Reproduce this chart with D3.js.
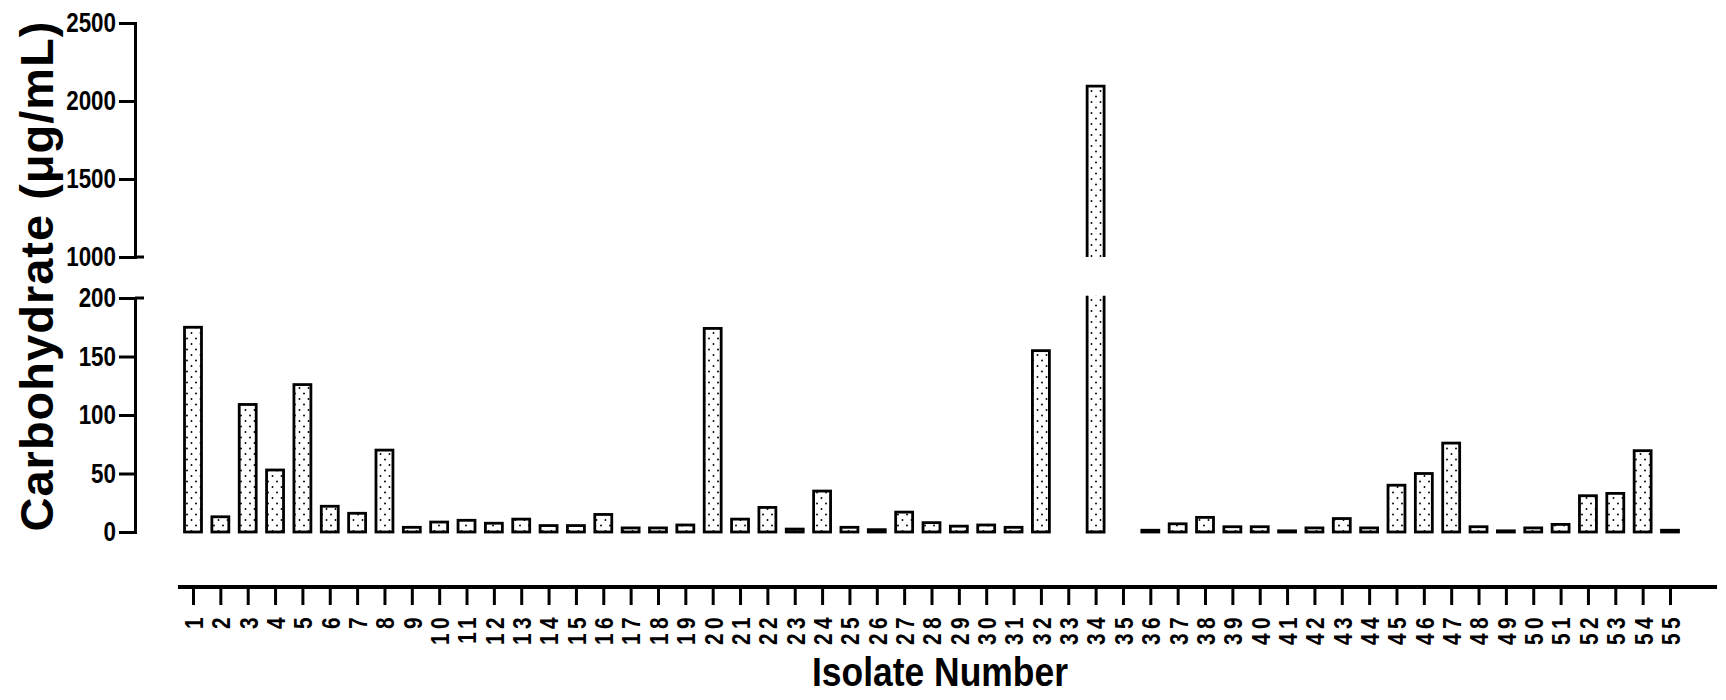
<!DOCTYPE html>
<html><head><meta charset="utf-8">
<script src="https://cdn.jsdelivr.net/npm/d3@7/dist/d3.min.js"></script>
<style>body{margin:0;background:#fff} svg{display:block;background:#fff}</style>
</head><body><svg id="chart" width="1726" height="700"></svg>
<script>
// ---- data ----
const isolates = ["1","2","3","4","5","6","7","8","9","10","11","12","13","14","15","16","17","18","19","20",
  "21","22","23","24","25","26","27","28","29","30","31","32","33","34","35","36","37","38","39","40",
  "41","42","43","44","45","46","47","48","49","50","51","52","53","54","55"];
const carbohydrate = [175,13,109,53,126,22,16,70,4,8.5,10,7.5,11,5.5,5.5,15,3.5,3.5,6,174,
  11,21,2.5,35,4,2,17,8,5,6,4,155,null,2095,null,1.5,7,12.5,4.5,4.5,
  1,3.5,11.5,3.5,40,50,76,4.5,1,3.5,6.5,31,33,69.5,1.5];
const upperTicks = [1000,1500,2000,2500];
const lowerTicks = [0,50,100,150,200];
const yTitle = "Carbohydrate (\u03BCg/mL)";
const xTitle = "Isolate Number";

// ---- layout ----
const svg = d3.select("#chart");
const axisX = 135;
const x = d3.scalePoint().domain(isolates).range([193, 1670]);
const step = x.step();
const barW = step * 0.62;
const yLow = d3.scaleLinear().domain([0, 200]).range([532, 298]);
const yUp = d3.scaleLinear().domain([1000, 2500]).range([257, 23]);
const lowCap = 202;
const bold = "'Liberation Sans',Arial,Helvetica,sans-serif";
const squeeze = 0.8;

// dotted pattern
const defs = svg.append("defs");
const pat = defs.append("pattern").attr("id","dots").attr("patternUnits","userSpaceOnUse")
  .attr("width",9).attr("height",11);
pat.append("rect").attr("width",9).attr("height",11).attr("fill","#fff");
pat.append("circle").attr("cx",2.5).attr("cy",3).attr("r",0.95).attr("fill","#000");
pat.append("circle").attr("cx",7).attr("cy",8.5).attr("r",0.95).attr("fill","#000");

// ---- bars ----
const data = isolates.map((k,i)=>({k, v: carbohydrate[i]})).filter(d=>d.v!=null);
const gBars = svg.append("g");
const sw = 2.8;
data.forEach(d=>{
  const x0 = x(d.k) - barW/2, x1 = x(d.k) + barW/2;
  if (d.v <= 200) {
    gBars.append("rect").attr("x",x0).attr("width",barW)
      .attr("y",yLow(d.v)).attr("height",Math.max(0.5, yLow(0)-yLow(d.v)))
      .attr("fill","url(#dots)").attr("stroke","#000").attr("stroke-width",sw);
  } else {
    gBars.append("rect").attr("x",x0).attr("width",barW)
      .attr("y",yLow(lowCap)).attr("height",yLow(0)-yLow(lowCap)).attr("fill","url(#dots)");
    gBars.append("path").attr("d",`M${x0},${yLow(lowCap)}V${yLow(0)}H${x1}V${yLow(lowCap)}`)
      .attr("fill","none").attr("stroke","#000").attr("stroke-width",sw);
    gBars.append("rect").attr("x",x0).attr("width",barW)
      .attr("y",yUp(d.v)).attr("height",yUp(1000)-yUp(d.v)).attr("fill","url(#dots)");
    gBars.append("path").attr("d",`M${x0},${yUp(1000)}V${yUp(d.v)}H${x1}V${yUp(1000)}`)
      .attr("fill","none").attr("stroke","#000").attr("stroke-width",sw);
  }
});

// ---- y axes ----
function styleY(g){
  g.select(".domain").attr("stroke-width",3).attr("stroke-linecap","square");
  g.selectAll(".tick line").attr("stroke-width",3);
  g.selectAll(".tick text")
    .attr("x", -19/squeeze)
    .attr("transform", `scale(${squeeze},1)`)
    .attr("font-family",bold).attr("font-weight","bold")
    .attr("font-size",28).attr("fill","#000");
}
const gUp = svg.append("g").attr("transform",`translate(${axisX},0)`)
  .call(d3.axisLeft(yUp).tickValues(upperTicks).tickSize(16).tickSizeOuter(0).tickPadding(3).tickFormat(d3.format("d")));
styleY(gUp);
const gLow = svg.append("g").attr("transform",`translate(${axisX},0)`)
  .call(d3.axisLeft(yLow).tickValues(lowerTicks).tickSize(16).tickSizeOuter(0).tickPadding(3).tickFormat(d3.format("d")));
styleY(gLow);
[yUp(1000), yLow(200)].forEach(yy=>{
  svg.append("line").attr("x1",axisX).attr("x2",axisX+9).attr("y1",yy).attr("y2",yy)
    .attr("stroke","#000").attr("stroke-width",3);
});

// ---- x axis ----
const axisY = 587;
const gX = svg.append("g").attr("transform",`translate(0,${axisY})`)
  .call(d3.axisBottom(x).tickSize(18).tickSizeOuter(0));
gX.select(".domain").remove();
gX.selectAll(".tick line").attr("stroke-width",3);
gX.selectAll(".tick text").remove();
gX.selectAll(".tick").append("text")
  .attr("transform","translate(0,26) rotate(-90) scale(0.8,1)")
  .attr("text-anchor","end").attr("dy","0.36em")
  .attr("font-family",bold).attr("font-weight","bold").attr("font-size",26)
  .attr("letter-spacing",5.5).attr("fill","#000")
  .text(d=>d);
svg.append("line")
  .attr("x1", x(isolates[0]) - 0.55*step).attr("x2", x(isolates[isolates.length-1]) + 1.72*step)
  .attr("y1", axisY).attr("y2", axisY).attr("stroke","#000").attr("stroke-width",4);

// ---- titles ----
svg.append("text").attr("transform","translate(53,276) rotate(-90)")
  .attr("text-anchor","middle").attr("font-family",bold).attr("font-weight","bold")
  .attr("font-size",47).attr("letter-spacing",1).attr("fill","#000").text(yTitle);
svg.append("text").attr("x",940).attr("y",686).attr("text-anchor","middle")
  .attr("font-family",bold).attr("font-weight","bold").attr("font-size",40)
  .attr("textLength",256).attr("lengthAdjust","spacingAndGlyphs")
  .attr("fill","#000").text(xTitle);
</script></body></html>
